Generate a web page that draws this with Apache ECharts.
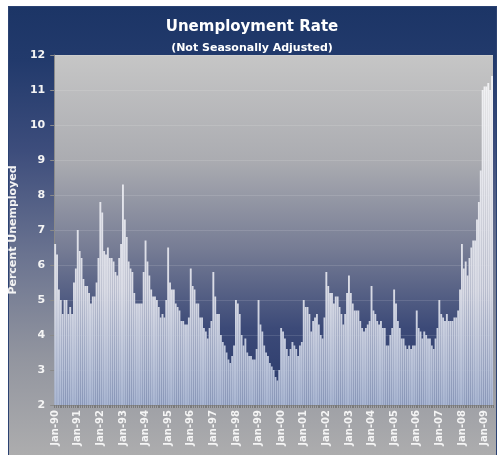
<!DOCTYPE html>
<html>
<head>
<meta charset="utf-8">
<script src="https://cdn.jsdelivr.net/npm/echarts@6/dist/echarts.min.js"></script>
<style>
html,body{margin:0;padding:0;background:#ffffff;}
#wrap{position:relative;width:498px;height:455px;background:#ffffff;}
#frame{position:absolute;left:8px;top:6px;width:487px;height:449px;border:1px solid #2b4272;border-bottom:none;
background:linear-gradient(to bottom,#1c3566 0%,#223a6c 12%,#3d4d7c 32%,#6a7390 55%,#92959f 78%,#adadae 100%);}
#chart{position:absolute;left:0;top:0;width:498px;height:455px;}
</style>
</head>
<body>
<div id="wrap"><div id="frame"></div><div id="chart"></div></div>
<script>
// ---- data (percent unemployed, not seasonally adjusted, monthly) ----
const monthNames = ['Jan','Feb','Mar','Apr','May','Jun','Jul','Aug','Sep','Oct','Nov','Dec'];
const yearLabels = ['90','91','92','93','94','95','96','97','98','99','00','01','02','03','04','05','06','07','08','09'];
const rate1990 = [6.6, 6.3, 5.3, 5.0, 4.6, 5.0, 5.0, 4.6, 4.8, 4.6, 5.5, 5.9];
const rate1991 = [7.0, 6.4, 6.2, 5.6, 5.4, 5.4, 5.2, 4.9, 5.1, 5.1, 5.5, 6.2];
const rate1992 = [7.8, 7.5, 6.4, 6.3, 6.5, 6.2, 6.2, 6.1, 5.8, 5.7, 6.2, 6.6];
const rate1993 = [8.3, 7.3, 6.8, 6.1, 5.9, 5.8, 5.2, 4.9, 4.9, 4.9, 4.9, 5.8];
const rate1994 = [6.7, 6.1, 5.7, 5.3, 5.1, 5.1, 5.0, 4.8, 4.5, 4.6, 4.5, 5.0];
const rate1995 = [6.5, 5.5, 5.3, 5.3, 4.9, 4.8, 4.7, 4.4, 4.4, 4.3, 4.3, 4.5];
const rate1996 = [5.9, 5.4, 5.3, 4.9, 4.9, 4.5, 4.5, 4.2, 4.1, 3.9, 4.2, 4.4];
const rate1997 = [5.8, 5.1, 4.6, 4.6, 4.0, 3.8, 3.7, 3.5, 3.3, 3.2, 3.4, 3.7];
const rate1998 = [5.0, 4.9, 4.6, 4.0, 3.7, 3.9, 3.5, 3.4, 3.4, 3.3, 3.3, 3.6];
const rate1999 = [5.0, 4.3, 4.1, 3.7, 3.5, 3.4, 3.2, 3.1, 3.0, 2.8, 2.7, 3.0];
const rate2000 = [4.2, 4.1, 3.9, 3.6, 3.4, 3.6, 3.8, 3.7, 3.6, 3.4, 3.7, 3.8];
const rate2001 = [5.0, 4.8, 4.8, 4.6, 4.1, 4.4, 4.5, 4.6, 4.3, 4.0, 3.9, 4.5];
const rate2002 = [5.8, 5.4, 5.2, 5.2, 4.9, 5.1, 5.1, 4.8, 4.6, 4.3, 4.6, 5.2];
const rate2003 = [5.7, 5.2, 4.9, 4.7, 4.7, 4.7, 4.4, 4.2, 4.1, 4.2, 4.3, 4.4];
const rate2004 = [5.4, 4.7, 4.6, 4.4, 4.3, 4.4, 4.2, 4.2, 3.7, 3.7, 4.0, 4.2];
const rate2005 = [5.3, 4.9, 4.4, 4.2, 3.9, 3.9, 3.7, 3.6, 3.7, 3.6, 3.7, 3.7];
const rate2006 = [4.7, 4.2, 4.1, 3.9, 4.1, 4.0, 3.9, 3.9, 3.7, 3.6, 3.9, 4.2];
const rate2007 = [5.0, 4.6, 4.5, 4.4, 4.6, 4.4, 4.4, 4.4, 4.5, 4.5, 4.7, 5.3];
const rate2008 = [6.6, 5.9, 6.1, 5.7, 6.2, 6.5, 6.7, 6.7, 7.3, 7.8, 8.7, 11.0];
const rate2009 = [11.1, 11.1, 11.2, 11.0, 11.4];
const yTicks = [2, 3, 4, 5, 6, 7, 8, 9, 10, 11, 12];

const yearly = [rate1990, rate1991, rate1992, rate1993, rate1994, rate1995, rate1996, rate1997, rate1998, rate1999,
  rate2000, rate2001, rate2002, rate2003, rate2004, rate2005, rate2006, rate2007, rate2008, rate2009];
const categories = [];
const values = [];
yearly.forEach((arr, yi) => {
  arr.forEach((v, mi) => {
    categories.push(monthNames[mi] + '-' + yearLabels[yi]);
    values.push(v);
  });
});

const chart = echarts.init(document.getElementById('chart'), null, {renderer: 'canvas'});
const F = 'DejaVu Sans';
chart.setOption({
  backgroundColor: 'transparent',
  animation: false,
  graphic: [
    {type: 'text', x: 252, y: 27, style: {text: 'Unemployment Rate', fill: '#ffffff', font: 'bold 15px "DejaVu Sans"', textAlign: 'center', textVerticalAlign: 'middle'}},
    {type: 'text', x: 252, y: 48, style: {text: '(Not Seasonally Adjusted)', fill: '#ffffff', font: 'bold 11px "DejaVu Sans"', textAlign: 'center', textVerticalAlign: 'middle'}}
  ],
  grid: {
    left: 52, right: 5, top: 55, bottom: 50,
    show: true, borderWidth: 0,
    backgroundColor: new echarts.graphic.LinearGradient(0, 0, 0, 1, [
      {offset: 0, color: '#c6c6c6'},
      {offset: 0.3, color: '#abacb1'},
      {offset: 0.55, color: '#777d95'},
      {offset: 0.78, color: '#3c4a78'},
      {offset: 1, color: '#29396a'}
    ])
  },
  xAxis: {
    type: 'category',
    data: categories,
    boundaryGap: true,
    axisLine: {show: true, lineStyle: {color: '#8a8a8a', width: 1}},
    axisTick: {show: true, interval: 0, length: 3, lineStyle: {color: '#7a7a7a', width: 1}},
    axisLabel: {
      interval: 11, rotate: 90, margin: 5,
      color: '#f4f4f4', fontFamily: F, fontWeight: 'bold', fontSize: 10
    },
    splitLine: {show: false}
  },
  yAxis: {
    type: 'value',
    min: 2, max: 12, interval: 1,
    name: 'Percent Unemployed',
    nameLocation: 'middle',
    nameGap: 28,
    nameTextStyle: {color: '#f4f4f4', fontFamily: F, fontWeight: 'bold', fontSize: 11},
    axisLine: {show: true, lineStyle: {color: '#8a8a8a'}},
    axisTick: {show: true, length: 4, lineStyle: {color: '#8a8a8a'}},
    axisLabel: {
      color: '#f4f4f4', fontFamily: F, fontWeight: 'bold', fontSize: 11, margin: 9,
      formatter: v => (yTicks.indexOf(v) >= 0 ? String(v) : '')
    },
    splitLine: {show: true, lineStyle: {color: 'rgba(255,255,255,0.12)', width: 1}}
  },
  series: [{
    type: 'bar',
    data: values,
    barCategoryGap: '0%',
    itemStyle: {
      color: new echarts.graphic.LinearGradient(0, 80, 0, 405, [
        {offset: 0, color: '#f2f2f4'},
        {offset: 0.65, color: '#d9dbe5'},
        {offset: 1, color: '#a9b6d2'}
      ], true),
      borderWidth: 0
    }
  }]
});
</script>
</body>
</html>
